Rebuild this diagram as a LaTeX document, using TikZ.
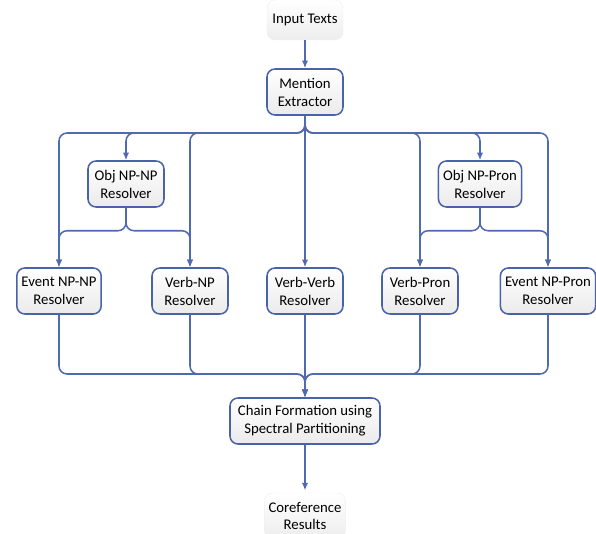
\documentclass[tikz,border=0pt]{standalone}
\usepackage{fontspec}
\setmainfont{Carlito}
\usetikzlibrary{arrows.meta}
\definecolor{linkblue}{RGB}{80,106,178}
\definecolor{boxblue}{RGB}{74,98,168}
\tikzset{
  resolver/.style={draw=boxblue, line width=1.3pt, rounded corners=0.24cm,
    top color=white, bottom color=gray!16, align=center,
    minimum width=2.28cm, minimum height=1.38cm, inner xsep=4pt,
    font=\fontsize{12.6}{15.3}\selectfont},
  terminal/.style={rounded corners=0.24cm, top color=white, bottom color=gray!14,
    draw=gray!12, align=center, minimum width=2.28cm, minimum height=1.2cm,
    font=\fontsize{12.6}{15.3}\selectfont},
  link/.style={draw=linkblue, line width=1.3pt, rounded corners=0.24cm,
    -{Latex[length=6.5pt,width=5.5pt]}},
}
\begin{document}
\begin{tikzpicture}[x=0.03cm,y=0.03cm]
    \useasboundingbox (0,0) rectangle (596,533);
    % Input and mention extraction
    \node[terminal] (in) at (305,513) {Input Texts};
    \node[resolver] (me) at (305,441) {Mention\\Extractor};
    % Object resolvers
    \node[resolver] (onn) at (126,349) {Obj NP-NP\\Resolver};
    \node[resolver] (onp) at (480,349) {Obj NP-Pron\\Resolver};
    % Second row of resolvers
    \node[resolver] (enn) at (59,242) {Event NP-NP\\Resolver};
    \node[resolver] (vnp) at (190,242) {Verb-NP\\Resolver};
    \node[resolver] (vv) at (305,242) {Verb-Verb\\Resolver};
    \node[resolver] (vp) at (420,242) {Verb-Pron\\Resolver};
    \node[resolver] (enp) at (548,242) {Event NP-Pron\\Resolver};
    % Chain formation and output
    \node[resolver, minimum width=4.5cm] (chain) at (305,112) {Chain Formation using\\Spectral Partitioning};
    \node[terminal, minimum height=1.38cm] (out) at (305,17) {Coreference\\Results};
    \coordinate (split) at (305,400);
    \coordinate (merge) at (305,159);

    \draw[link] (in) -- (me);
    \foreach \t in {enn,onn,vnp,onp,vp,enp}
        \draw[link] (me.south) -- (split) -| (\t.north);
    \draw[link] (me) -- (vv);
    % Object resolvers feed the row below
    \draw[link] (onn.south) -- ++(0,-23) -| (enn.north);
    \draw[link] (onn.south) -- ++(0,-23) -| (vnp.north);
    \draw[link] (onp.south) -- ++(0,-23) -| (vp.north);
    \draw[link] (onp.south) -- ++(0,-23) -| (enp.north);
    % Merge into chain formation
    \foreach \s in {enn,vnp,vp,enp}
        \draw[link] (\s.south) |- (merge) -- (chain.north);
    \draw[link] (vv) -- (chain);
    \draw[link, shorten >=2pt] (chain) -- (out);
\end{tikzpicture}
\end{document}
